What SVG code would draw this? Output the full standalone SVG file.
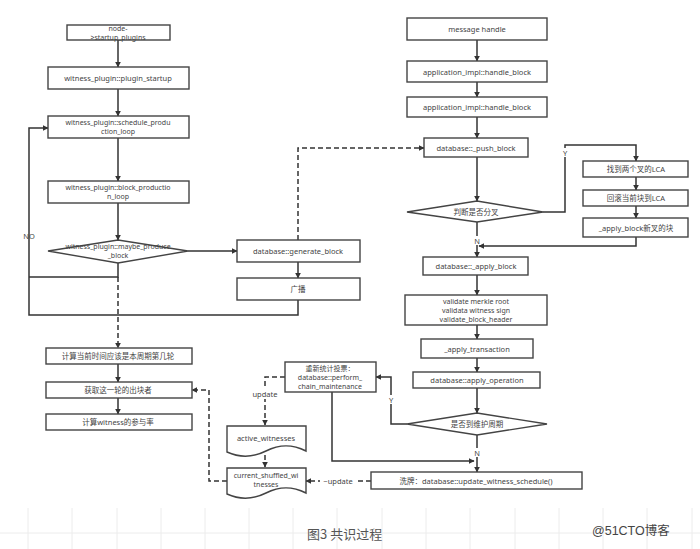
<svg xmlns="http://www.w3.org/2000/svg" width="700" height="549" viewBox="0 0 700 549">
<defs>
<marker id="ah" viewBox="0 0 10 10" refX="9" refY="5" markerWidth="6" markerHeight="6" orient="auto" markerUnits="userSpaceOnUse">
<path d="M0,0 L10,5 L0,10 Z" fill="#333"/>
</marker>
<style>
.box{fill:#fff;stroke:#444;stroke-width:1.4}
.t{font-family:"Noto Sans","Noto Sans CJK SC",sans-serif;font-size:7.5px;fill:#444;text-anchor:middle;dominant-baseline:central}
.m{font-size:7px}
.e{fill:none;stroke:#333;stroke-width:1.5}
.d{fill:none;stroke:#333;stroke-width:1.5;stroke-dasharray:5,3}
.grid{stroke:#ececec;stroke-width:1}
.lbl{font-family:"Noto Sans",sans-serif;font-size:7.5px;fill:#444;text-anchor:middle;dominant-baseline:central}
.bg{fill:#fff}
</style>
</defs>
<rect width="700" height="549" fill="#fff"/>
<g id="grid">
<line class="grid" x1="0" y1="533" x2="700" y2="533"/>
<line class="grid" x1="28" y1="508" x2="28" y2="549"/>
<line class="grid" x1="72" y1="508" x2="72" y2="549"/>
<line class="grid" x1="117" y1="508" x2="117" y2="549"/>
<line class="grid" x1="161" y1="508" x2="161" y2="549"/>
<line class="grid" x1="205" y1="508" x2="205" y2="549"/>
<line class="grid" x1="249" y1="508" x2="249" y2="549"/>
<line class="grid" x1="293" y1="508" x2="293" y2="549"/>
<line class="grid" x1="337" y1="508" x2="337" y2="549"/>
<line class="grid" x1="382" y1="508" x2="382" y2="549"/>
<line class="grid" x1="426" y1="508" x2="426" y2="549"/>
<line class="grid" x1="470" y1="508" x2="470" y2="549"/>
<line class="grid" x1="515" y1="508" x2="515" y2="549"/>
<line class="grid" x1="559" y1="508" x2="559" y2="549"/>
<line class="grid" x1="603" y1="508" x2="603" y2="549"/>
<line class="grid" x1="647" y1="508" x2="647" y2="549"/>
<line class="grid" x1="692" y1="508" x2="692" y2="549"/>
</g>
<g id="connectors">
<line class="e" x1="118" y1="40" x2="118" y2="67" marker-end="url(#ah)"/>
<line class="e" x1="118" y1="89" x2="118" y2="116" marker-end="url(#ah)"/>
<line class="e" x1="118" y1="138" x2="118" y2="181" marker-end="url(#ah)"/>
<line class="e" x1="118" y1="203" x2="118" y2="240" marker-end="url(#ah)"/>
<line class="e" x1="188" y1="251" x2="237" y2="251" marker-end="url(#ah)"/>
<line class="e" x1="298" y1="262" x2="298" y2="278" marker-end="url(#ah)"/>
<path class="e" d="M298,300 V315 H29 V128 H48" marker-end="url(#ah)"/>
<path class="e" d="M118,263 V277 H29"/>
<line class="d" x1="118" y1="277" x2="118" y2="348" marker-end="url(#ah)"/>
<line class="e" x1="118" y1="364" x2="118" y2="382" marker-end="url(#ah)"/>
<line class="e" x1="118" y1="398" x2="118" y2="414" marker-end="url(#ah)"/>
<path class="d" d="M298,240 V148 H424" marker-end="url(#ah)"/>
<path class="d" d="M227,481 H209 V390 H192" marker-end="url(#ah)"/>
<line class="e" x1="477" y1="40" x2="477" y2="61" marker-end="url(#ah)"/>
<line class="e" x1="477" y1="82" x2="477" y2="97" marker-end="url(#ah)"/>
<line class="e" x1="477" y1="117" x2="477" y2="138" marker-end="url(#ah)"/>
<line class="e" x1="477" y1="157" x2="477" y2="201" marker-end="url(#ah)"/>
<path class="e" d="M543,212 H565 V145 H636 V161" marker-end="url(#ah)"/>
<line class="e" x1="636" y1="177" x2="636" y2="190" marker-end="url(#ah)"/>
<line class="e" x1="636" y1="206" x2="636" y2="218" marker-end="url(#ah)"/>
<path class="e" d="M636,237 V246 H479" marker-end="url(#ah)"/>
<line class="e" x1="477" y1="222" x2="477" y2="257" marker-end="url(#ah)"/>
<line class="e" x1="477" y1="275" x2="477" y2="295" marker-end="url(#ah)"/>
<line class="e" x1="477" y1="325" x2="477" y2="339" marker-end="url(#ah)"/>
<line class="e" x1="477" y1="358" x2="477" y2="372" marker-end="url(#ah)"/>
<line class="e" x1="477" y1="388" x2="477" y2="413" marker-end="url(#ah)"/>
<path class="e" d="M407,424 H391 V377 H376" marker-end="url(#ah)"/>
<line class="e" x1="477" y1="435" x2="477" y2="472" marker-end="url(#ah)"/>
<path class="e" d="M332,392 V461 H474" marker-end="url(#ah)"/>
<path class="d" d="M285,377 H265 V425" marker-end="url(#ah)"/>
<line class="d" x1="265" y1="455" x2="265" y2="467" marker-end="url(#ah)"/>
<line class="d" x1="371" y1="481" x2="306" y2="481" marker-end="url(#ah)"/>
<rect class="bg" x="320" y="476" width="36" height="10"/>
<text class="lbl" x="338" y="481">~update</text>
<rect class="bg" x="248" y="389" width="34" height="10"/>
<text class="lbl" x="265" y="394">update</text>
<text class="lbl" x="29" y="236">NO</text>
<rect class="bg" x="561" y="148" width="8" height="9"/>
<text class="lbl" x="565" y="152.5">Y</text>
<rect class="bg" x="473" y="236" width="8" height="9"/>
<text class="lbl" x="477" y="240.5">N</text>
<rect class="bg" x="387" y="395" width="8" height="9"/>
<text class="lbl" x="391" y="399.5">Y</text>
<rect class="bg" x="473" y="448" width="8" height="9"/>
<text class="lbl" x="477" y="452.5">N</text>
</g>
<g id="n1"><rect class="box" x="67" y="25" width="103" height="15"/><text class="t m" x="118" y="28">node-</text><text class="t m" x="118" y="37">&gt;startup_plugins</text></g>
<g id="n2"><rect class="box" x="48" y="67" width="141" height="22"/><text class="t" x="118" y="78">witness_plugin::plugin_startup</text></g>
<g id="n3"><rect class="box" x="48" y="116" width="141" height="22"/><text class="t m" x="118" y="122.5">witness_plugin::schedule_produ</text><text class="t m" x="118" y="131.5">ction_loop</text></g>
<g id="n4"><rect class="box" x="48" y="181" width="141" height="22"/><text class="t m" x="118" y="187.5">witness_plugin::block_productio</text><text class="t m" x="118" y="196.5">n_loop</text></g>
<g id="n5"><polygon class="box" points="48,251 118,240 188,251 118,263"/><text class="t m" x="118" y="246.5">witness_plugin::maybe_produce</text><text class="t m" x="118" y="255.5">_block</text></g>
<g id="n6"><rect class="box" x="237" y="240" width="123" height="22"/><text class="t" x="298" y="251">database::generate_block</text></g>
<g id="n7"><rect class="box" x="237" y="278" width="123" height="22"/><text class="t" x="298" y="289">广播</text></g>
<g id="n8"><rect class="box" x="46" y="348" width="146" height="16"/><text class="t" x="118" y="356">计算当前时间应该是本周期第几轮</text></g>
<g id="n9"><rect class="box" x="46" y="382" width="146" height="16"/><text class="t" x="118" y="390">获取这一轮的出块者</text></g>
<g id="n10"><rect class="box" x="46" y="414" width="146" height="16"/><text class="t" x="118" y="422">计算witness的参与率</text></g>
<g id="n11"><rect class="box" x="285" y="362" width="91" height="30"/><text class="t m" x="330" y="368">重新统计投票：</text><text class="t m" x="330" y="377">database::perform_</text><text class="t m" x="330" y="386">chain_maintenance</text></g>
<g id="n12"><path class="box" d="M227,426 H306 V451 C292,444 280,444 266,451 C252,458 240,458 227,452 Z"/><text class="t" x="266" y="438">active_witnesses</text></g>
<g id="n13"><path class="box" d="M227,468 H306 V493 C292,486 280,486 266,493 C252,500 240,500 227,494 Z"/><text class="t m" x="266" y="475">current_shuffled_wi</text><text class="t m" x="266" y="484">tnesses</text></g>
<g id="n14"><rect class="box" x="407" y="18" width="140" height="22"/><text class="t" x="477" y="29">message handle</text></g>
<g id="n15"><rect class="box" x="407" y="61" width="140" height="21"/><text class="t" x="477" y="71.5">application_impl::handle_block</text></g>
<g id="n16"><rect class="box" x="407" y="97" width="140" height="20"/><text class="t" x="477" y="107">application_impl::handle_block</text></g>
<g id="n17"><rect class="box" x="424" y="138" width="104" height="19"/><text class="t" x="476" y="147.5">database::_push_block</text></g>
<g id="n18"><polygon class="box" points="407,212 477,201 543,212 477,222"/><text class="t" x="476" y="212">判断是否分叉</text></g>
<g id="n19"><rect class="box" x="583" y="161" width="105" height="16"/><text class="t" x="636" y="169">找到两个叉的LCA</text></g>
<g id="n20"><rect class="box" x="583" y="190" width="105" height="16"/><text class="t" x="636" y="198">回滚当前块到LCA</text></g>
<g id="n21"><rect class="box" x="583" y="218" width="105" height="19"/><text class="t" x="636" y="227.5">_apply_block新叉的块</text></g>
<g id="n22"><rect class="box" x="423" y="257" width="105" height="18"/><text class="t" x="476" y="266">database::_apply_block</text></g>
<g id="n23"><rect class="box" x="405" y="295" width="142" height="30"/><text class="t m" x="476" y="301">validate merkle root</text><text class="t m" x="476" y="310">validata witness sign</text><text class="t m" x="476" y="319">validate_block_header</text></g>
<g id="n24"><rect class="box" x="421" y="339" width="112" height="19"/><text class="t" x="477" y="348.5">_apply_transaction</text></g>
<g id="n25"><rect class="box" x="413" y="372" width="127" height="16"/><text class="t" x="477" y="380">database::apply_operation</text></g>
<g id="n26"><polygon class="box" points="407,424 477,413 547,424 477,435"/><text class="t" x="477" y="424">是否到维护周期</text></g>
<g id="n27"><rect class="box" x="371" y="472" width="211" height="17"/><text class="t" x="476" y="480.5">洗牌：database::update_witness_schedule()</text></g>
<g id="caption"><text x="307" y="533" font-family="Noto Sans CJK SC, sans-serif" font-size="13" fill="#555" dominant-baseline="central">图3 共识过程</text>
<text x="592" y="531" font-family="Liberation Sans, Noto Sans CJK SC, sans-serif" font-size="12.5" fill="#444" dominant-baseline="central">@51CTO博客</text></g>
</svg>
